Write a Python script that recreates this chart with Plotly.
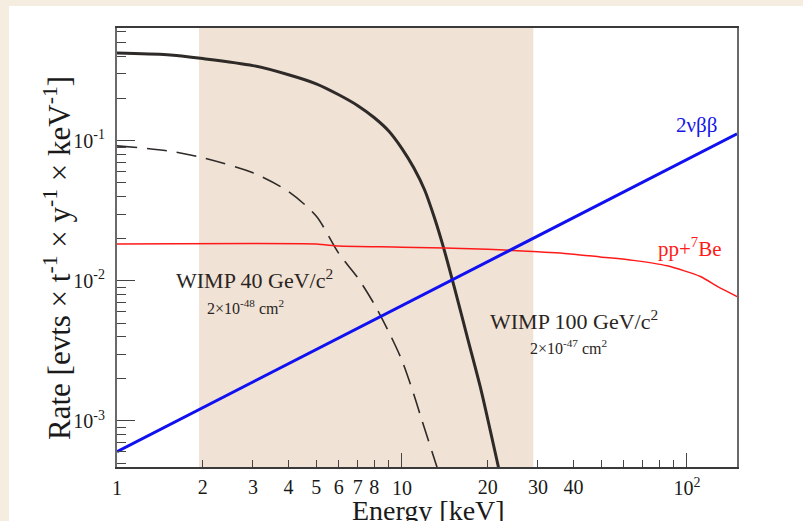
import plotly.graph_objects as go

# ---------------- data ----------------
E_w100 = [1, 1.5, 2, 3, 4, 5, 6, 7, 8, 9, 10, 11, 12, 13, 14, 15.35, 17.05, 18.95, 20.4, 21.8, 22.2]
R_w100 = [0.423, 0.411, 0.386, 0.344, 0.296, 0.255, 0.213, 0.178, 0.146, 0.117, 0.0880, 0.0641, 0.0447,
          0.0282, 0.0172, 0.00862, 0.00379, 0.00166, 0.00086, 0.000469, 0.00040]

E_w40 = [1, 1.5, 2, 3, 4, 5, 6, 7, 8, 9, 10, 11, 11.73, 13.06, 13.4]
R_w40 = [0.092, 0.0848, 0.0756, 0.059, 0.0433, 0.0290, 0.0157, 0.0105, 0.0068, 0.0043, 0.0027, 0.00155,
         0.00102, 0.000518, 0.00044]

E_bb = [1, 150]
R_bb = [0.000604, 0.112]

E_pp = [1, 5, 6, 10, 20, 30, 40, 49.6, 64.8, 85.3, 111.5, 127.8, 150]
R_pp = [0.0183, 0.0183, 0.0177, 0.0174, 0.0168, 0.0161, 0.0155, 0.0148, 0.0140, 0.0128, 0.01074, 0.00912, 0.00772]

roi = [1.94, 28.9]

x_major = [1, 10, 100]
x_major_text = ["1", "10", "10<sup>2</sup>"]
x_minor = [2, 3, 4, 5, 6, 7, 8, 9, 20, 30, 40, 50, 60, 70, 80, 90]
x_label_vals = [2, 3, 4, 5, 6, 7, 8, 20, 30, 40]
x_label_text = ["2", "3", "4", "5", "6", "7", "8", "20", "30", "40"]

y_major = [1e-3, 1e-2, 1e-1]
y_major_text = ["10<sup>-3</sup>", "10<sup>-2</sup>", "10<sup>-1</sup>"]
y_minor = [m * d for d in (1e-4, 1e-3, 1e-2, 1e-1) for m in range(2, 10)]

# ---------------- layout geometry ----------------
W, H = 803, 521
PL, PR, PT, PB = 117, 737, 28, 467


def px(x):
    return (x - PL) / (PR - PL)


def py(y):
    return (PB - y) / (PB - PT)


SERIF = "Liberation Serif, Times New Roman, serif"

fig = go.Figure()

fig.add_trace(go.Scatter(x=E_w100, y=R_w100, mode="lines",
                         line=dict(color="#2e2a28", width=3, shape="spline", smoothing=0.8),
                         showlegend=False, hoverinfo="skip"))
fig.add_trace(go.Scatter(x=E_w40, y=R_w40, mode="lines",
                         line=dict(color="#2e2a28", width=1.6, dash="20px,10px", shape="spline", smoothing=0.8),
                         showlegend=False, hoverinfo="skip"))
fig.add_trace(go.Scatter(x=E_pp, y=R_pp, mode="lines",
                         line=dict(color="#ff1a1a", width=1.5, shape="spline", smoothing=0.6),
                         showlegend=False, hoverinfo="skip"))
fig.add_trace(go.Scatter(x=E_bb, y=R_bb, mode="lines", line=dict(color="#1010f0", width=3),
                         showlegend=False, hoverinfo="skip"))
# invisible trace to host the label-only overlay axis
fig.add_trace(go.Scatter(x=[1], y=[1e-2], xaxis="x2", mode="markers", marker=dict(opacity=0),
                         showlegend=False, hoverinfo="skip"))

# background card
fig.add_shape(type="rect", xref="paper", yref="paper", x0=px(9), x1=px(803), y0=py(521), y1=py(6),
              fillcolor="white", line=dict(width=0), layer="below")
# region of interest shading
fig.add_shape(type="rect", xref="x", yref="paper", x0=roi[0], x1=roi[1], y0=0, y1=1,
              fillcolor="#f0e2d5", line=dict(width=0), layer="below")

xr = [0, 2.1757]
yr = [-3.329, -0.195]

fig.update_layout(
    width=W, height=H,
    margin=dict(l=PL, r=W - PR, t=PT, b=H - PB, pad=0),
    paper_bgcolor="#f5eddf",
    plot_bgcolor="rgba(0,0,0,0)",
    font=dict(family=SERIF, color="#1a1a1a", size=20),
    xaxis=dict(type="log", range=xr, tickmode="array", tickvals=x_major, ticktext=x_major_text,
               ticks="inside", ticklen=14, tickwidth=1, tickcolor="#444",
               minor=dict(tickmode="array", tickvals=x_minor, ticks="inside", ticklen=7, tickwidth=1,
                          tickcolor="#444"),
               showline=True, linecolor="#3a3a3a", linewidth=2, mirror=True, showgrid=False, zeroline=False,
               tickfont=dict(size=20, family=SERIF, color="#1a1a1a"), ticklabelstandoff=2),
    xaxis2=dict(type="log", range=xr, overlaying="x", anchor="y", side="bottom", tickmode="array",
                tickvals=x_label_vals, ticktext=x_label_text, ticks="", showline=False, showgrid=False,
                zeroline=False, tickfont=dict(size=20, family=SERIF, color="#1a1a1a"), ticklabelstandoff=6),
    yaxis=dict(type="log", range=yr, tickmode="array", tickvals=y_major, ticktext=y_major_text,
               ticks="inside", ticklen=18, tickwidth=1, tickcolor="#444",
               minor=dict(tickmode="array", tickvals=y_minor, ticks="inside", ticklen=9, tickwidth=1,
                          tickcolor="#444"),
               showline=True, linecolor="#6a6a6a", linewidth=2, mirror=True, showgrid=False, zeroline=False,
               tickfont=dict(size=20, family=SERIF, color="#1a1a1a"), ticklabelstandoff=6),
)

ann = [
    dict(text="2νββ", x=px(696), y=py(125), color="#1515e6", size=21),
    dict(text="pp+<sup>7</sup>Be", x=px(690), y=py(248), color="#ff1a1a", size=21),
    dict(text="WIMP 40 GeV/c<sup>2</sup>", x=px(254), y=py(279), color="#2a2522", size=22),
    dict(text="2×10<sup>-48</sup> cm<sup>2</sup>", x=px(245), y=py(307), color="#2a2522", size=16),
    dict(text="WIMP 100 GeV/c<sup>2</sup>", x=px(574), y=py(320), color="#2a2522", size=22),
    dict(text="2×10<sup>-47</sup> cm<sup>2</sup>", x=px(568), y=py(347), color="#2a2522", size=16),
]
for a in ann:
    fig.add_annotation(text=a["text"], x=a["x"], y=a["y"], xref="paper", yref="paper", showarrow=False,
                       xanchor="center", yanchor="middle",
                       font=dict(family=SERIF, size=a["size"], color=a["color"]))

# axis titles
fig.add_annotation(text="Energy [keV]", x=px(428), y=py(510), xref="paper", yref="paper", showarrow=False,
                   xanchor="center", yanchor="middle", font=dict(family=SERIF, size=28, color="#1a1a1a"))
fig.add_annotation(text="Rate [evts × t<sup>-1</sup> × y<sup>-1</sup> × keV<sup>-1</sup>]", x=px(57), y=py(258),
                   xref="paper", yref="paper", showarrow=False, textangle=-90,
                   xanchor="center", yanchor="middle", font=dict(family=SERIF, size=31, color="#1a1a1a"))

fig.write_html("out.html")
